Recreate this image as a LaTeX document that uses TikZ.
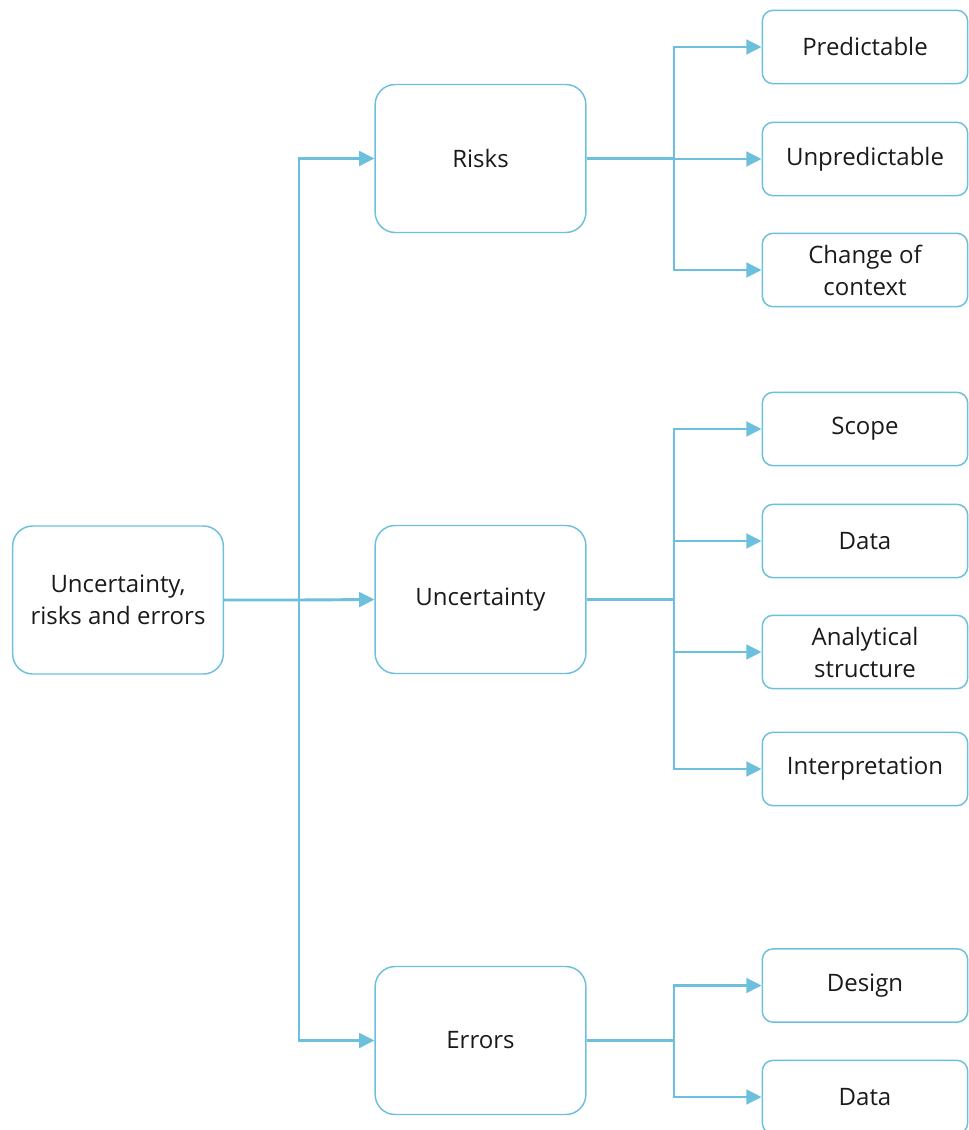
\documentclass[tikz,border=0pt]{standalone}
\usepackage{fontspec}
\setmainfont{Open Sans}
\usetikzlibrary{arrows.meta}
\definecolor{lineblue}{HTML}{6CC0DE}
\definecolor{txt}{HTML}{1A1A1A}
\begin{document}
\begin{tikzpicture}[x=0.75pt, y=-0.75pt,
  box/.style={draw=lineblue, line width=1.1pt, rounded corners=15pt, align=center,
    text=txt, minimum width=158pt, minimum height=111pt,
    font=\fontsize{18}{24}\selectfont},
  leaf/.style={box, rounded corners=8pt, minimum width=154pt, minimum height=55pt},
  link/.style={draw=lineblue, line width=2.2pt},
  arr/.style={link, -{Triangle[length=11.5pt, width=11pt]}}]
  \useasboundingbox (0, 0) rectangle (968, 1130);
  \node[box] (root) at (118, 600) {Uncertainty,\\risks and errors};
  \node[box] (risks) at (480.5, 158.5) {Risks};
  \node[box] (unc) at (480.5, 599.5) {Uncertainty};
  \node[box] (err) at (480.5, 1040.5) {Errors};
  \node[leaf] (pred) at (865, 47) {Predictable};
  \node[leaf] (unpred) at (865, 159) {Unpredictable};
  \node[leaf] (change) at (865, 270) {Change of\\context};
  \node[leaf] (scope) at (865, 429) {Scope};
  \node[leaf] (data1) at (865, 541) {Data};
  \node[leaf] (anal) at (865, 652) {Analytical\\structure};
  \node[leaf] (interp) at (865, 769) {Interpretation};
  \node[leaf] (design) at (865, 985.5) {Design};
  \node[leaf] (data2) at (865, 1097) {Data};
  % trunk on the left
  \coordinate (trunk) at (299, 600);
  \coordinate (rb) at (674, 0);
  \draw[arr] (root.east) -- (trunk) -- (unc.west);
  \draw[arr] (trunk) |- (risks.west);
  \draw[arr] (trunk) |- (err.west);
  % branches on the right
  \foreach \c in {pred, unpred, change}
    \draw[arr] (risks.east) -- (risks.east -| rb) |- (\c.west);
  \foreach \c in {scope, data1, anal, interp}
    \draw[arr] (unc.east) -- (unc.east -| rb) |- (\c.west);
  \foreach \c in {design, data2}
    \draw[arr] (err.east) -- (err.east -| rb) |- (\c.west);
\end{tikzpicture}
\end{document}
